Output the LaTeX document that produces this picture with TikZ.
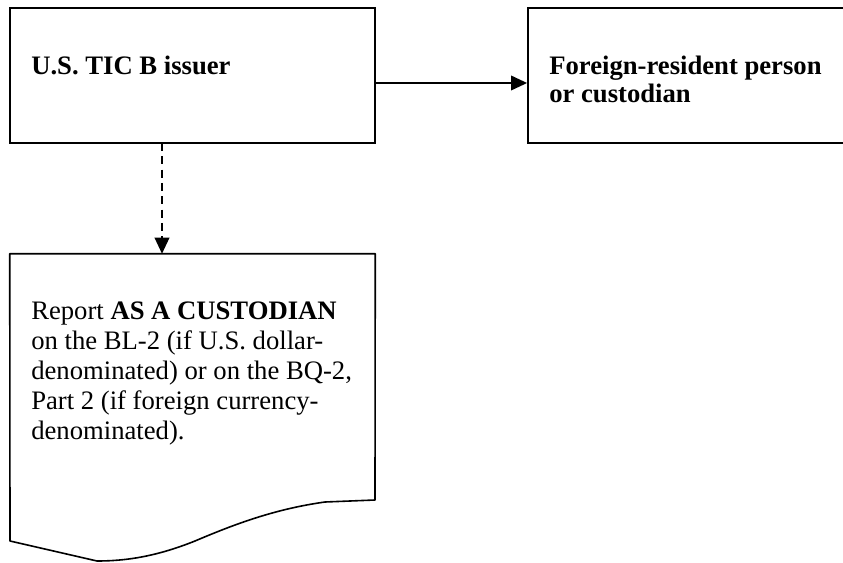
\documentclass[tikz,border=0pt]{standalone}
\usepackage{fontspec}
\setmainfont{Liberation Serif}
\usetikzlibrary{arrows.meta}
\begin{document}
\begin{tikzpicture}[x=0.75pt,y=-0.75pt,
  box/.style={draw, line width=1.4pt, inner sep=0pt, minimum height=101.25pt},
  txt/.style={inner sep=0pt, anchor=base west, font=\fontsize{20}{22.5}\selectfont},
  conn/.style={line width=1.1pt, -{Triangle[length=12pt,width=11pt]}},
  docline/.style={line width=1.2pt, line join=round}]
\useasboundingbox (0,0) rectangle (843,563);
\clip (0,0) rectangle (843,563);
% boxes
\node[box, minimum width=273.75pt] (b1) at (192.5,75.5) {};
\node[box, minimum width=279pt] (b2) at (714,75.5) {};
\node[inner sep=0pt, minimum width=273.75pt, minimum height=215.25pt] (doc) at (192.5,397.5) {};
\draw[docline] (10,541) -- (doc.north west) -- (doc.north east) -- (375,500) -- (325,502)
  .. controls (275,509) and (235,524) .. (195,541)
  .. controls (160,555) and (130,561) .. (97,561) -- cycle;
% texts
\node[txt] (t1) at (31,75) {\bfseries U.S. TIC B issuer};
\node[txt] (t2) at (549,75) {\parbox[t]{300pt}{\fontsize{20}{21}\selectfont\bfseries Foreign-resident person\\or custodian}};
\node[txt] (t3) at (31,320) {\parbox[t]{300pt}{\fontsize{20}{22.5}\selectfont Report \textbf{AS A CUSTODIAN}\\on the BL-2 (if U.S. dollar-\\denominated) or on the BQ-2,\\Part 2 (if foreign currency-\\denominated).}};
% connectors
\draw[conn] (b1.east |- 0,83) -- (b2.west |- 0,83);
\draw[conn, dash pattern=on 6pt off 4pt] (162,143) -- (doc.north -| 162,0);
\end{tikzpicture}
\end{document}
